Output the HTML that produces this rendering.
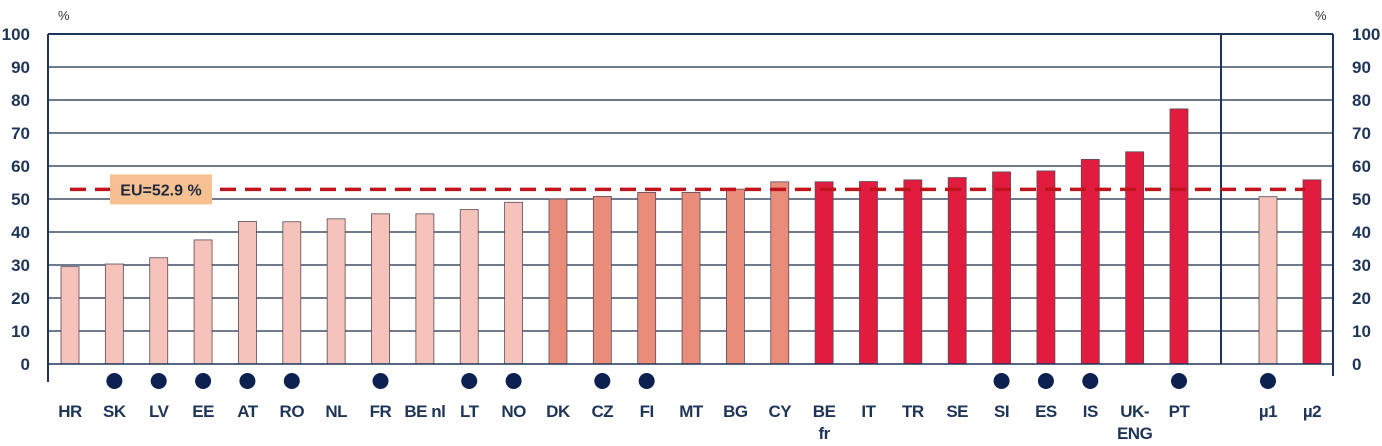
<!DOCTYPE html>
<html><head><meta charset="utf-8"><style>
html,body{margin:0;padding:0;background:#fff;}
svg{display:block;font-family:"Liberation Sans",sans-serif;}
</style></head><body>
<svg id="chart" width="1382" height="446" viewBox="0 0 1382 446">
<g id="grid"></g>
<g id="bars"></g>
<g id="axes"></g>
<g id="labels"></g>
</svg>
<script>
const categories=["HR","SK","LV","EE","AT","RO","NL","FR","BE nl","LT","NO","DK","CZ","FI","MT","BG","CY","BE|fr","IT","TR","SE","SI","ES","IS","UK-|ENG","PT","µ1","µ2"];
const values=[29.5,30.3,32.2,37.6,43.2,43.1,44,45.5,45.5,46.8,49,50,50.8,52,52,53,55.2,55.2,55.3,55.8,56.5,58.2,58.5,62,64.3,77.3,50.7,55.8];
const groups=[0,0,0,0,0,0,0,0,0,0,0,1,1,1,1,1,1,2,2,2,2,2,2,2,2,2,0,2];
const dots=[0,1,1,1,1,1,0,1,0,1,1,0,1,1,0,0,0,0,0,0,0,1,1,1,0,1,1,0];
const yTicks=[0,10,20,30,40,50,60,70,80,90,100];
const euAvg=52.9;
const NS="http://www.w3.org/2000/svg";
const colors=["#f5c3b9","#e98c7a","#e21c3e"];
const x0=48,x1=1333,yTop=34,yZero=364,sep=1221;
function y(v){return yZero-(v/100)*(yZero-yTop);}
function xc(i){return i<26?70+i*44.36:1268+(i-26)*44;}
function mk(tag,attrs,parent,name){const e=document.createElementNS(NS,tag);for(const k in attrs)e.setAttribute(k,attrs[k]);


parent.appendChild(e);return e;}
const grid=document.getElementById('grid'),bars=document.getElementById('bars'),axes=document.getElementById('axes'),labels=document.getElementById('labels');
yTicks.forEach(t=>{
 if(t>0) mk('line',{x1:x0,x2:x1,y1:y(t),y2:y(t),stroke:'#1a2a4a','stroke-width':1.2},grid,'gridline-'+t);
 const l=mk('text',{x:30,y:y(t)+6,'text-anchor':'end','font-size':17,'font-weight':'bold',fill:'#1f3558'},axes,'y-tick-left-'+t);l.textContent=t;
 const r=mk('text',{x:1352,y:y(t)+6,'font-size':17,'font-weight':'bold',fill:'#1f3558'},axes,'y-tick-right-'+t);r.textContent=t;
});
values.forEach((v,i)=>{
 const cx=xc(i);
 mk('rect',{x:cx-9,y:y(v),width:18,height:yZero-y(v),fill:colors[groups[i]],stroke:'#5a4a5a','stroke-width':0.8},bars,'bar-'+categories[i].replace('|','-').replace(' ','-'));
 if(dots[i]) mk('circle',{cx:cx,cy:381,r:8,fill:'#0d2150'},labels,'marker-dot-'+categories[i].replace('|','-').replace(' ','-'));
 const parts=categories[i].split('|');
 parts.forEach((p,j)=>{const t=mk('text',{x:cx,y:417+j*22,'text-anchor':'middle','font-size':17,'font-weight':'bold',fill:'#1f3558','letter-spacing':'-0.5'},labels,'x-label-'+p.replace(' ','-'));t.textContent=p;});
});
mk('line',{x1:x0,x2:x0,y1:yTop,y2:382,stroke:'#1f3558','stroke-width':2},axes,'left-axis');
mk('line',{x1:x1,x2:x1,y1:yTop,y2:376,stroke:'#1f3558','stroke-width':2},axes,'right-axis');
mk('line',{x1:x0,x2:x1,y1:yTop,y2:yTop,stroke:'#1f3558','stroke-width':2},axes,'top-border');
mk('line',{x1:x0,x2:x1,y1:yZero,y2:yZero,stroke:'#1f3558','stroke-width':1.5},axes,'x-axis');
mk('line',{x1:sep,x2:sep,y1:yTop,y2:yZero,stroke:'#1f3558','stroke-width':2},axes,'separator-line');
mk('line',{x1:70,x2:1305,y1:y(euAvg),y2:y(euAvg),stroke:'#c0141c','stroke-width':3.5,'stroke-dasharray':'16,9'},axes,'eu-average-line');
mk('rect',{x:110,y:y(euAvg)-15,width:102,height:30,fill:'#f7c090'},axes,'eu-label-box');
const eu=mk('text',{x:161,y:y(euAvg)+6,'text-anchor':'middle','font-size':16,'font-weight':'bold',fill:'#1f2a40'},axes,'eu-label');eu.textContent='EU='+euAvg+' %';
const p1=mk('text',{x:58,y:20,'font-size':13,fill:'#333'},axes,'y-unit-left');p1.textContent='%';
const p2=mk('text',{x:1315,y:20,'font-size':13,fill:'#333'},axes,'y-unit-right');p2.textContent='%';
</script>
</body></html>
